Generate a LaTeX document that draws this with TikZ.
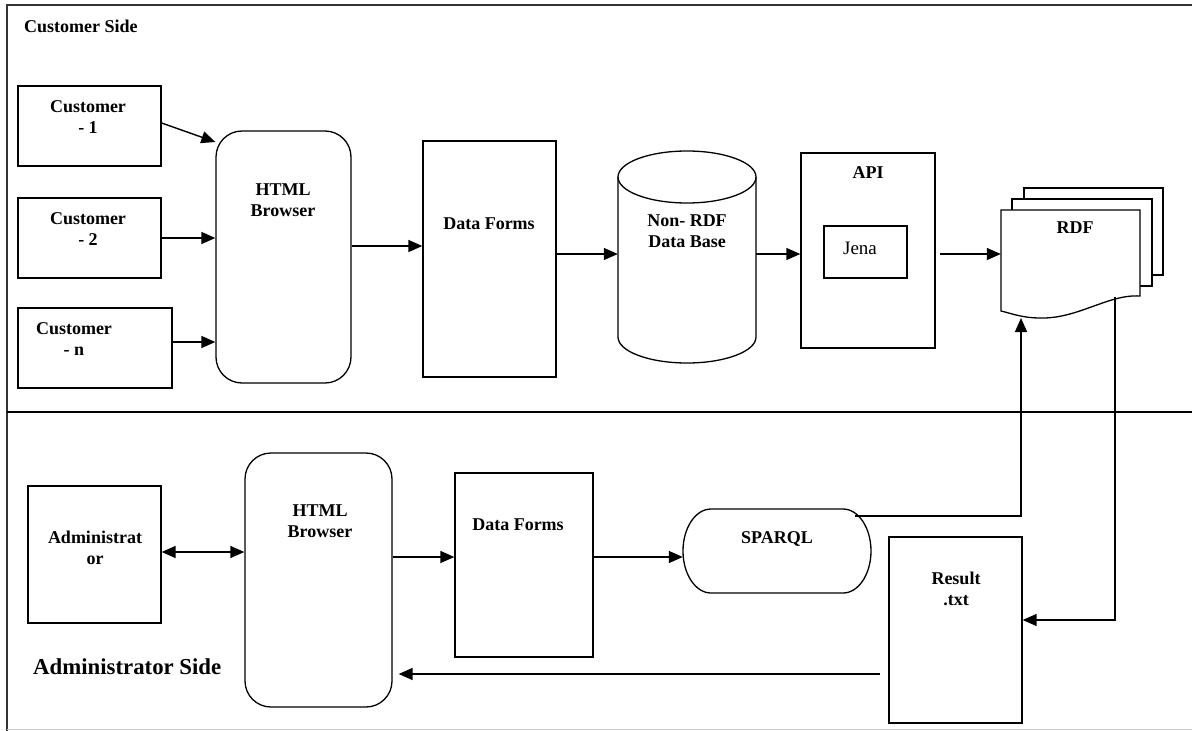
\documentclass[tikz,border=0pt]{standalone}
\usepackage{fontspec}
\setmainfont{Liberation Serif}
\usetikzlibrary{arrows.meta,fit,calc}
\tikzset{
  box/.style={draw, line width=1.3pt, inner sep=0pt, fill=white},
  rbox/.style={box, rounded corners=26pt},
  area/.style={inner sep=0pt},
  lbl/.style={align=center, inner sep=0pt, font=\fontsize{18}{21.5}\selectfont\bfseries},
  arr/.style={line width=1.4pt, -{Triangle[length=14pt,width=12pt]}},
}
\begin{document}
\begin{tikzpicture}[x=1pt,y=-1pt]
\useasboundingbox (0,0) rectangle (1192,731);
% frame
\draw[line width=1.3pt, black!80] (7,731) -- (7,5) -- (1192,5);
\draw[line width=0.8pt, black!20] (7,729) -- (1192,729);
\draw[line width=2.4pt] (7,412) -- (1192,412);
\node[lbl, anchor=west] (cside) at (24,26) {Customer Side};
\node[lbl, anchor=west, font=\fontsize{22.8}{26}\selectfont\bfseries] (aside) at (33,667) {Administrator Side};

% customer side boxes
\node[box, fit={(18,86)(161,166)}] (c1) {};
\node[lbl] (c1t) at (88,117) {Customer\\- 1};
\node[box, fit={(18,198)(161,278)}] (c2) {};
\node[lbl] (c2t) at (88,229) {Customer\\- 2};
\node[box, fit={(18,308)(172,388)}] (cn) {};
\node[lbl] (cnt) at (74,339) {Customer\\- n};

\node[rbox, fit={(216,131)(351,383)}] (br) {};
\node[lbl] (brt) at (283,200) {HTML\\Browser};

\node[box, fit={(423,141)(556,377)}] (df) {};
\node[lbl] (dft) at (489,224) {Data Forms};

% cylinder
\node[area, fit={(618,151)(756,363)}] (db) {};
\draw[line width=1.3pt, fill=white] (618,177) -- (618,337)
  arc[start angle=180, end angle=360, x radius=69pt, y radius=26pt] -- (756,177);
\draw[line width=1.3pt] (687,177) ellipse [x radius=69pt, y radius=26pt];
\node[lbl] (dbt) at (687,231) {Non- RDF\\Data Base};

\node[box, fit={(801,153)(935,348)}] (api) {};
\node[lbl] (apit) at (868,173) {API};
\node[box, fit={(824,226)(907,278)}] (jena) {};
\node[font=\fontsize{19}{22}\selectfont, inner sep=0pt] (jenat) at (860,248) {Jena};

% RDF multi-document
\draw[line width=1.3pt, fill=white] (1024,199) -- (1024,188) -- (1163,188) -- (1163,275) -- (1152,275);
\draw[line width=1.3pt, fill=white] (1012,210) -- (1012,199) -- (1152,199) -- (1152,286) -- (1140,286);
\draw[line width=1.3pt, fill=white] (1001,210) -- (1140,210) -- (1140,296)
  .. controls (1108,294) and (1078,319) .. (1040,318)
  .. controls (1022,318) and (1010,313) .. (1001,311) -- cycle;
\node[area, fit={(1001,210)(1140,318)}] (rdf) {};
\node[lbl] (rdft) at (1075,228) {RDF};

% administrator side
\node[box, fit={(28,486)(161,623)}] (adm) {};
\node[lbl] (admt) at (95,548) {Administrat\\or};
\node[rbox, fit={(245,453)(392,707)}] (br2) {};
\node[lbl] (br2t) at (320,521) {HTML\\Browser};
\node[box, fit={(455,473)(593,657)}] (df2) {};
\node[lbl] (df2t) at (518,525) {Data Forms};

\node[area, fit={(683,509)(871,593)}] (sp) {};
\draw[line width=1.3pt] (711,509) -- (843,509)
  arc[start angle=90, end angle=-90, x radius=28pt, y radius=42pt] -- (711,593)
  arc[start angle=270, end angle=90, x radius=28pt, y radius=42pt] -- cycle;
\node[lbl] (spt) at (777,539) {SPARQL};

\node[box, fit={(889,537)(1022,723)}] (res) {};
\node[lbl] (rest) at (956,589) {Result\\.txt};

% connectors
\draw[arr] (c1.east |- 0,123) -- (br.west |- 0,142);
\draw[arr] (c2.east |- 0,238) -- (br.west |- 0,238);
\draw[arr] (cn.east |- 0,342) -- (br.west |- 0,342);
\draw[arr] (br.east |- 0,246) -- (df.west |- 0,246);
\draw[arr] (df.east |- 0,254) -- (db.west |- 0,254);
\draw[arr] (db.east |- 0,254) -- (api.west |- 0,254);
\draw[arr] ($(api.east |- 0,254)+(4,0)$) -- (rdf.west |- 0,254);

\draw[line width=1.4pt, {Triangle[length=14pt,width=12pt]}-{Triangle[length=14pt,width=12pt]}] (adm.east |- 0,552) -- (br2.west |- 0,552);
\draw[arr] (br2.east |- 0,557) -- (df2.west |- 0,557);
\draw[arr] (df2.east |- 0,557) -- (sp.west |- 0,557);
\draw[arr] (855,516) -| (1021,318);
\draw[arr] (1115,297) |- (res.east |- 0,620);
\draw[arr] ($(res.west |- 0,674)+(-8,0)$) -- ($(br2.east |- 0,674)+(6,0)$);
\end{tikzpicture}
\end{document}
